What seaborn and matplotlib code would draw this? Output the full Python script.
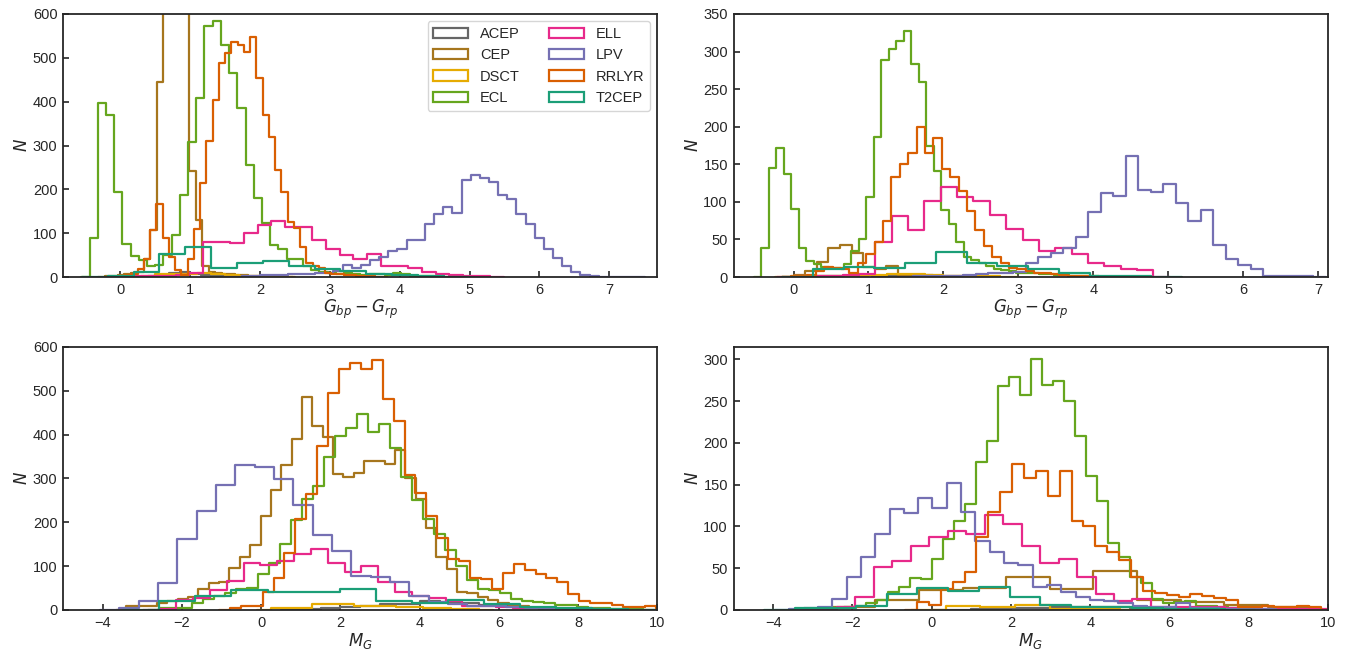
import numpy as np
import pandas as pd
import seaborn as sns
import matplotlib
matplotlib.use("Agg")
import matplotlib.pyplot as plt
from matplotlib.patches import Patch

# variable classes, colours follow Dark2 reversed
classes = ["ACEP", "CEP", "DSCT", "ECL", "ELL", "LPV", "RRLYR", "T2CEP"]

# each entry: (first bin edge, bin width, counts per bin)
# top-left : colour, full sample
color_all = {
    "ACEP": (0.40, 0.15, [2, 5, 10, 12, 8, 4, 3, 2, 1]),
    "CEP": (-0.22, 0.093, [2, 3, 5, 8, 10, 12, 40, 107, 446, 800, 1100, 1000, 750, 242, 130, 25,
                           12, 10, 8, 6, 5, 4, 3, 3, 2, 2, 1, 1]),
    "DSCT": (0.30, 0.20, [3, 6, 8, 8, 9, 7, 5, 3, 2, 1]),
    "ECL": (-0.44, 0.1175, [90, 396, 370, 195, 75, 47, 38, 24, 28, 50, 96, 187, 308, 408, 573, 583,
                            529, 465, 386, 255, 180, 123, 73, 64, 40, 40, 24, 15, 12, 10, 8, 10,
                            8, 5, 8, 6, 4, 10, 6, 3, 2, 2, 1, 1]),
    "ELL": (0.006, 0.196, [1, 2, 3, 3, 5, 10, 80, 80, 78, 100, 118, 128, 115, 113, 84, 64, 50, 41,
                           53, 25, 26, 20, 12, 7, 5, 3, 3]),
    "LPV": (1.61, 0.131, [1, 2, 3, 4, 4, 5, 6, 7, 8, 10, 10, 14, 27, 20, 27, 39, 46, 60, 65, 84, 84,
                          122, 144, 159, 147, 221, 233, 225, 216, 187, 177, 144, 121, 90, 63, 43,
                          24, 12, 5, 2, 1, 1, 1, 1]),
    "RRLYR": (0.07, 0.0894, [5, 8, 18, 41, 107, 167, 90, 46, 15, 5, 40, 110, 214, 310, 404, 488, 511,
                             535, 530, 514, 548, 453, 370, 320, 244, 195, 126, 111, 69, 33, 24, 20,
                             10, 8, 6, 5, 4, 3, 2, 2, 1]),
    "T2CEP": (-0.18, 0.37, [3, 12, 52, 69, 20, 32, 37, 24, 18, 14, 8, 5, 3]),
}

# top-right : colour, second sample
color_sub = {
    "ACEP": (0.30, 0.25, [1, 2, 3, 2, 1]),
    "CEP": (0.0, 0.155, [3, 8, 20, 38, 42, 32, 13, 10, 15, 3, 2, 3, 1, 2, 1]),
    "DSCT": (0.0, 0.25, [1, 2, 1, 2, 3, 4, 4, 3, 2, 1, 1]),
    "ECL": (-0.43, 0.10, [39, 145, 172, 137, 90, 39, 21, 17, 13, 12, 12, 17, 35, 50, 107, 186, 289,
                          304, 314, 328, 283, 259, 174, 141, 89, 70, 47, 26, 23, 19, 14, 10, 9, 8,
                          6, 6, 5, 4, 4, 3, 3, 2, 2, 1, 1]),
    "ELL": (0.003, 0.218, [1, 1, 2, 3, 4, 47, 81, 62, 101, 120, 107, 101, 82, 64, 49, 35, 38, 31,
                           18, 15, 11, 9]),
    "LPV": (1.60, 0.1667, [1, 1, 2, 2, 3, 4, 5, 6, 7, 18, 27, 32, 39, 53, 87, 112, 108, 161, 116, 113,
                           124, 99, 74, 89, 42, 24, 16, 11, 2, 1, 1, 1]),
    "RRLYR": (-0.038, 0.112, [1, 2, 3, 8, 13, 12, 10, 5, 18, 31, 47, 75, 133, 151, 165, 199, 165,
                              185, 144, 133, 115, 88, 62, 41, 27, 18, 12, 10, 8, 6, 5, 4, 3, 2, 2, 1]),
    "T2CEP": (0.26, 0.41, [11, 13, 12, 18, 33, 19, 14, 10, 5, 2, 1]),
}

# bottom-left : absolute magnitude, full sample
mag_all = {
    "ACEP": (1.0, 0.5, [2, 4, 6, 10, 14, 14, 20, 18, 15, 12, 8, 5, 3, 2, 1]),
    "CEP": (-3.41, 0.261, [8, 8, 10, 15, 20, 25, 30, 47, 61, 63, 95, 120, 148, 214, 273, 330, 389,
                           486, 420, 395, 311, 303, 313, 339, 340, 334, 366, 300, 254, 186, 121, 93,
                           40, 38, 29, 22, 15, 10, 8, 5, 4, 3, 2, 2, 1, 1]),
    "DSCT": (0.24, 0.35, [5, 5, 5, 13, 14, 14, 9, 8, 8, 6, 6, 5, 4, 3, 2]),
    "ECL": (-2.58, 0.2778, [5, 5, 5, 17, 25, 32, 38, 47, 50, 82, 108, 151, 205, 254, 282, 350, 398,
                            415, 448, 405, 424, 370, 303, 252, 208, 173, 136, 100, 68, 48, 45, 38,
                            24, 20, 18, 15, 11, 12, 7, 5, 4, 3, 2, 2]),
    "ELL": (-2.57, 0.425, [3, 23, 27, 45, 66, 108, 102, 111, 127, 139, 108, 87, 100, 64, 42, 32, 28,
                           20, 10, 9, 6, 5, 4, 3, 2, 2]),
    "LPV": (-3.58, 0.488, [5, 21, 62, 161, 226, 286, 330, 326, 298, 239, 170, 134, 78, 76, 63, 32,
                           19, 14, 10, 8, 6, 4, 3, 2, 2, 1, 1]),
    "RRLYR": (-0.79, 0.2755, [5, 9, 10, 40, 72, 129, 208, 265, 373, 496, 549, 564, 549, 570, 481, 432,
                              307, 267, 214, 165, 117, 112, 72, 71, 47, 85, 106, 91, 82, 72, 64, 36,
                              20, 17, 15, 11, 6, 7, 10]),
    "T2CEP": (-2.57, 0.91, [21, 33, 45, 40, 42, 48, 21, 16, 23, 13, 7, 4, 2, 1]),
}

# bottom-right : absolute magnitude, second sample
mag_sub = {
    "ACEP": (1.0, 1.0, [1, 2, 3, 3, 2, 1]),
    "CEP": (-2.52, 1.10, [3, 12, 24, 26, 40, 25, 47, 12, 10, 6, 3]),
    "DSCT": (0.35, 0.88, [5, 3, 6, 1, 1]),
    "ECL": (-2.76, 0.277, [1, 2, 4, 5, 8, 12, 21, 27, 38, 37, 61, 85, 107, 127, 177, 202, 268, 279,
                           258, 301, 270, 274, 250, 208, 161, 130, 80, 63, 40, 32, 13, 8, 9, 11, 5,
                           5, 3, 2, 2]),
    "ELL": (-2.856, 0.466, [1, 4, 16, 51, 59, 77, 88, 95, 91, 114, 103, 77, 56, 61, 39, 19, 11, 13, 4,
                            3, 3, 3, 2, 2, 1, 1, 1, 1]),
    "LPV": (-3.59, 0.361, [1, 2, 4, 13, 39, 64, 91, 121, 116, 134, 122, 152, 117, 83, 70, 56, 54, 27,
                           30, 22, 15, 12, 11, 8, 5, 3, 4, 8, 2, 2, 1, 1, 1, 1]),
    "RRLYR": (-0.37, 0.30, [10, 6, 25, 33, 45, 87, 117, 141, 175, 158, 166, 137, 166, 107, 101, 77,
                            70, 60, 40, 23, 20, 18, 15, 19, 17, 14, 12, 4, 4, 5, 3, 3, 5, 3]),
    "T2CEP": (-3.46, 0.775, [2, 2, 5, 19, 26, 23, 27, 15, 6, 4, 3, 2, 1, 1]),
}

panels = [color_all, color_sub, mag_all, mag_sub]
xlabels = [r"$G_{bp} - G_{rp}$", r"$G_{bp} - G_{rp}$", r"$M_G$", r"$M_G$"]
xlims = [(-0.82, 7.69), (-0.8, 7.13), (-5, 10), (-5, 10)]
ylims = [(0, 600), (0, 350), (0, 600), (0, 315)]

sns.set_theme(style="ticks")
plt.rcParams["font.family"] = ["Liberation Sans", "DejaVu Sans"]
plt.rcParams["xtick.direction"] = "in"
plt.rcParams["ytick.direction"] = "in"
palette = dict(zip(classes, sns.color_palette("Dark2_r", 8)))

fig, axes = plt.subplots(2, 2, figsize=(13.53, 6.54), dpi=100)
fig.subplots_adjust(left=0.0466, right=0.9815, top=0.9786, bottom=0.0673,
                    hspace=0.266, wspace=0.128)

for ax, data, xl, xlim, ylim in zip(axes.flat, panels, xlabels, xlims, ylims):
    for name in classes:
        start, width, counts = data[name]
        # an empty bin on each side closes the step outline at the baseline
        n = np.concatenate([[0], counts, [0]])
        edges = start + width * np.arange(-1, len(counts) + 2)
        df = pd.DataFrame({"x": (edges[:-1] + edges[1:]) / 2, "n": n})
        sns.histplot(data=df, x="x", weights="n", bins=list(edges), element="step", fill=False,
                     color=palette[name], linewidth=1.6, ax=ax)
    ax.set_xlim(xlim)
    ax.set_ylim(ylim)
    ax.set_xlabel(xl, fontsize=12, labelpad=1)
    ax.set_ylabel("$N$", fontsize=12, labelpad=2)
    ax.tick_params(labelsize=10.5, length=4, width=1.2, pad=4)
    for s in ax.spines.values():
        s.set_visible(True)
        s.set_linewidth(1.3)

handles = [Patch(facecolor="none", edgecolor=palette[c], linewidth=1.6, label=c) for c in classes]
axes[0, 0].legend(handles=handles, ncol=2, loc="upper right", fontsize=10.5,
                  handlelength=2.4, columnspacing=2.0, frameon=True)

fig.savefig("out.png", dpi=100)
